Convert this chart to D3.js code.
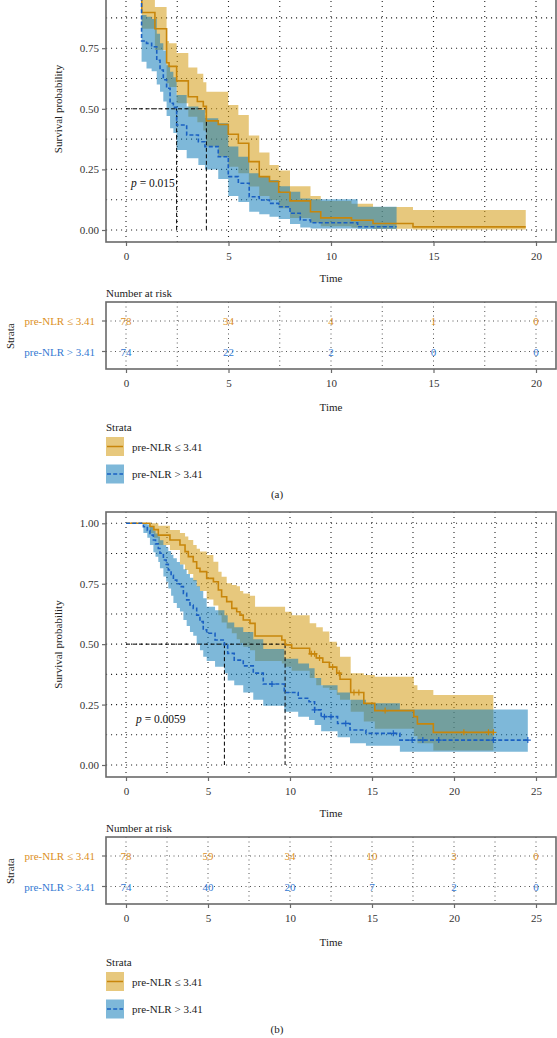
<!DOCTYPE html>
<html><head><meta charset="utf-8">
<script src="https://cdn.jsdelivr.net/npm/d3@7"></script>
<style>
html,body{margin:0;padding:0;background:#fff;}
svg{display:block;}
text{font-family:"Liberation Serif","Times New Roman",serif;}
</style></head><body>
<svg id="chart" width="557" height="1038"></svg>
<script>
// ---------------- DATA ----------------
const strata = ["pre-NLR \u2264 3.41", "pre-NLR > 3.41"];
const yTicks = [0, 0.25, 0.5, 0.75, 1];
const yTickLabels = ["0.00", "0.25", "0.50", "0.75", "1.00"];
const xTicksA = [0, 5, 10, 15, 20];
const xTicksB = [0, 5, 10, 15, 20, 25];
const pValueA = "0.015";
const pValueB = "0.0059";

// Panel (a) – pre-NLR <= 3.41
const timeA1 = [0, 0.77, 1.41, 1.98, 2.1, 2.47, 3.04, 3.48, 3.77, 3.92, 4.5, 4.99, 5.48, 5.99, 6.5, 7.0, 7.45, 8.0, 9.0, 9.5, 11.0, 12.05, 14.0, 19.5];
const survA1 = [1, 0.897, 0.83, 0.69, 0.675, 0.615, 0.55, 0.53, 0.51, 0.45, 0.435, 0.395, 0.358, 0.282, 0.22, 0.2, 0.156, 0.12, 0.075, 0.05, 0.04, 0.027, 0.013, 0.013];
const upperA1 = [1, 0.96, 0.92, 0.78, 0.77, 0.73, 0.67, 0.645, 0.61, 0.57, 0.57, 0.516, 0.474, 0.39, 0.32, 0.268, 0.245, 0.18, 0.14, 0.12, 0.108, 0.095, 0.083, 0.083];
const lowerA1 = [1, 0.83, 0.743, 0.605, 0.59, 0.523, 0.467, 0.445, 0.41, 0.344, 0.302, 0.261, 0.234, 0.179, 0.14, 0.124, 0.09, 0.05, 0.03, 0.015, 0.01, 0.005, 0.002, 0.002];
const censorA1 = [];
// Panel (a) – pre-NLR > 3.41
const timeA2 = [0, 0.76, 1.0, 1.25, 1.5, 1.66, 1.82, 1.98, 2.15, 2.31, 2.47, 2.96, 3.53, 3.85, 4.5, 4.99, 5.48, 6.01, 6.5, 7.0, 7.45, 8.0, 8.5, 9.0, 11.3, 13.2];
const survA2 = [1, 0.78, 0.77, 0.756, 0.70, 0.66, 0.62, 0.585, 0.523, 0.506, 0.433, 0.392, 0.364, 0.344, 0.302, 0.22, 0.193, 0.137, 0.124, 0.110, 0.096, 0.069, 0.041, 0.03, 0.0135, 0.0135];
const upperA2 = [1, 0.887, 0.88, 0.87, 0.81, 0.77, 0.74, 0.68, 0.653, 0.63, 0.557, 0.51, 0.495, 0.461, 0.44, 0.344, 0.302, 0.234, 0.22, 0.206, 0.18, 0.158, 0.13, 0.127, 0.096, 0.096];
const lowerA2 = [1, 0.694, 0.666, 0.655, 0.60, 0.57, 0.53, 0.47, 0.42, 0.40, 0.33, 0.296, 0.268, 0.25, 0.21, 0.14, 0.115, 0.075, 0.065, 0.055, 0.045, 0.025, 0.01, 0.006, 0.004, 0.004];
const censorA2 = [];
const riskTimesA = [0, 5, 10, 15, 20];
const riskA1 = [78, 34, 4, 1, 0];
const riskA2 = [74, 22, 2, 0, 0];

// Panel (b) – pre-NLR <= 3.41
const timeB1 = [0, 1.46, 1.7, 1.97, 2.68, 3.29, 3.6, 3.8, 4.1, 4.31, 4.51, 4.92, 5.33, 5.63, 5.83, 6.14, 6.45, 6.75, 6.95, 7.15, 7.56, 7.87, 9.5, 9.7, 10.1, 11.2, 11.6, 12.0, 12.4, 12.85, 13.05, 13.7, 14.5, 15.17, 17.55, 17.77, 18.74, 22.4];
const survB1 = [1, 0.987, 0.974, 0.951, 0.931, 0.91, 0.883, 0.862, 0.841, 0.814, 0.80, 0.772, 0.758, 0.724, 0.696, 0.676, 0.648, 0.634, 0.62, 0.60, 0.586, 0.534, 0.517, 0.497, 0.483, 0.46, 0.443, 0.425, 0.405, 0.38, 0.355, 0.30, 0.255, 0.225, 0.2, 0.17, 0.135, 0.135];
const upperB1 = [1, 1, 1, 0.99, 0.972, 0.96, 0.945, 0.931, 0.91, 0.895, 0.883, 0.869, 0.841, 0.80, 0.779, 0.752, 0.745, 0.74, 0.72, 0.71, 0.70, 0.655, 0.655, 0.634, 0.62, 0.586, 0.57, 0.552, 0.51, 0.489, 0.448, 0.38, 0.372, 0.365, 0.33, 0.31, 0.29, 0.29];
const lowerB1 = [1, 0.96, 0.94, 0.91, 0.89, 0.83, 0.807, 0.79, 0.76, 0.738, 0.72, 0.685, 0.66, 0.62, 0.59, 0.565, 0.545, 0.52, 0.505, 0.489, 0.475, 0.43, 0.42, 0.407, 0.39, 0.36, 0.33, 0.32, 0.31, 0.29, 0.27, 0.22, 0.18, 0.15, 0.12, 0.09, 0.06, 0.06];
const censorB1 = [11.3, 11.5, 11.8, 12.6, 13.0, 13.9, 14.2, 15.8, 20.6, 22.1, 22.4];
// Panel (b) – pre-NLR > 3.41
const timeB2 = [0, 1.06, 1.3, 1.46, 1.67, 1.8, 1.97, 2.07, 2.28, 2.45, 2.58, 2.75, 2.89, 3.1, 3.29, 3.5, 3.7, 3.9, 4.1, 4.31, 4.51, 4.71, 4.92, 5.43, 6.0, 6.2, 6.6, 7.15, 7.76, 8.37, 9.65, 10.5, 11.16, 11.5, 11.9, 12.9, 13.66, 14.63, 16.7, 24.5];
const survB2 = [1, 0.986, 0.97, 0.951, 0.931, 0.915, 0.896, 0.876, 0.848, 0.83, 0.807, 0.785, 0.765, 0.75, 0.738, 0.71, 0.683, 0.662, 0.648, 0.62, 0.593, 0.559, 0.545, 0.517, 0.497, 0.462, 0.434, 0.41, 0.38, 0.335, 0.30, 0.276, 0.262, 0.228, 0.2, 0.172, 0.145, 0.131, 0.103, 0.103];
const upperB2 = [1, 1, 0.995, 0.985, 0.97, 0.958, 0.945, 0.93, 0.91, 0.9, 0.885, 0.87, 0.855, 0.84, 0.83, 0.81, 0.79, 0.775, 0.765, 0.74, 0.72, 0.69, 0.655, 0.64, 0.62, 0.59, 0.57, 0.55, 0.52, 0.48, 0.44, 0.42, 0.40, 0.36, 0.33, 0.30, 0.27, 0.255, 0.23, 0.23];
const lowerB2 = [1, 0.96, 0.94, 0.91, 0.88, 0.862, 0.84, 0.814, 0.78, 0.758, 0.73, 0.70, 0.67, 0.65, 0.635, 0.60, 0.575, 0.55, 0.535, 0.50, 0.475, 0.448, 0.43, 0.407, 0.38, 0.35, 0.33, 0.30, 0.27, 0.245, 0.22, 0.2, 0.186, 0.166, 0.14, 0.115, 0.09, 0.08, 0.055, 0.055];
const censorB2 = [8.9, 11.5, 12.1, 12.5, 13.4, 16.3, 17.45, 18.1, 19.07, 22.4, 24.5];
const riskTimesB = [0, 5, 10, 15, 20, 25];
const riskB1 = [78, 59, 34, 10, 3, 0];
const riskB2 = [74, 40, 20, 7, 2, 0];

// ---------------- STYLE ----------------
const lineCol = ["#C8860B", "#1A60C2"];
const textCol = ["#DC8F25", "#3479D2"];
const bandCol = ["#D39B13", "#147DB9"];
const bandOp = [0.55, 0.55];
const frameCol = "#6a6a6a";
const tickTextCol = "#333";
const FS = 11;

const svg = d3.select("#chart");

function stepValue(rows, t) {
  const i = d3.bisectRight(rows.map(r => r.t), t) - 1;
  return rows[Math.max(0, i)].s;
}

function drawPanel(cfg) {
  const g = svg.append("g");
  const x = d3.scaleLinear().domain([0, cfg.xMax]).range([126, 536]);
  const y = d3.scaleLinear().domain([0, 1]).range([cfg.y0, cfg.y1]);
  const L = 106, R = 556, T = cfg.top, B = cfg.bottom;

  // grid (major + minor)
  const gx = d3.range(0, cfg.xMax + 0.01, 2.5);
  const gy = d3.range(0, 1.001, 0.125);
  g.append("g").selectAll("line").data(gy).join("line")
    .attr("x1", L).attr("x2", R).attr("y1", d => y(d)).attr("y2", d => y(d))
    .attr("stroke", "#222").attr("stroke-width", 1.1).attr("stroke-dasharray", "1.1,3.9");
  g.append("g").selectAll("line").data(gx).join("line")
    .attr("x1", d => x(d)).attr("x2", d => x(d)).attr("y1", T).attr("y2", B)
    .attr("stroke", "#222").attr("stroke-width", 1.1).attr("stroke-dasharray", "1.1,3.9");

  const area = d3.area().curve(d3.curveStepAfter)
    .x(d => x(d.t)).y0(d => y(d.l)).y1(d => y(d.u));
  const line = d3.line().curve(d3.curveStepAfter).x(d => x(d.t)).y(d => y(d.s));

  cfg.groups.forEach((gr, k) => {
    g.append("path").attr("d", area(gr.rows)).attr("fill", bandCol[k]).attr("fill-opacity", bandOp[k]);
  });

  // median lines
  const meds = cfg.groups.map(gr => { const r = gr.rows.find(d => d.s <= 0.5); return r ? r.t : null; });
  const mmax = d3.max(meds);
  g.append("line").attr("x1", x(0)).attr("x2", x(mmax)).attr("y1", y(0.5)).attr("y2", y(0.5))
    .attr("stroke", "#000").attr("stroke-width", 1).attr("stroke-dasharray", "4,2.5");
  meds.forEach(m => {
    g.append("line").attr("x1", x(m)).attr("x2", x(m)).attr("y1", y(0.5)).attr("y2", y(0))
      .attr("stroke", "#000").attr("stroke-width", 1).attr("stroke-dasharray", "4,2.5");
  });

  cfg.groups.forEach((gr, k) => {
    g.append("path").attr("d", line(gr.rows)).attr("fill", "none").attr("stroke", lineCol[k])
      .attr("stroke-width", 1.6).attr("stroke-dasharray", k === 1 ? "4,2.2" : null);
    gr.censor.forEach(ct => {
      const cx = x(ct), cy = y(stepValue(gr.rows, ct));
      g.append("path").attr("d", `M${cx - 3},${cy}H${cx + 3}M${cx},${cy - 3}V${cy + 3}`)
        .attr("stroke", lineCol[k]).attr("stroke-width", 1.2);
    });
  });

  // frame
  g.append("rect").attr("x", L).attr("y", T).attr("width", R - L).attr("height", B - T)
    .attr("fill", "none").attr("stroke", frameCol).attr("stroke-width", 1.6);

  // axes (only ticks that fall inside the picture)
  const visY = yTicks.map((v, i) => ({v, lab: yTickLabels[i]})).filter(d => y(d.v) > 6);
  const ay = g.append("g").attr("transform", `translate(${L},0)`)
    .call(d3.axisLeft(y).tickValues(visY.map(d => d.v))
      .tickFormat(v => visY.find(d => d.v === v).lab).tickSize(4).tickPadding(3));
  const ax = g.append("g").attr("transform", `translate(0,${B})`)
    .call(d3.axisBottom(x).tickValues(cfg.xTicks).tickFormat(d3.format("d")).tickSize(4).tickPadding(6));
  [ay, ax].forEach(a => {
    a.select(".domain").remove();
    a.selectAll(".tick line").attr("stroke", frameCol).attr("stroke-width", 1.2);
    a.selectAll(".tick text").attr("fill", tickTextCol).attr("font-size", FS)
      .attr("font-family", '"Liberation Serif",serif');
  });

  g.append("text").attr("transform", `translate(62,${(T + B) / 2}) rotate(-90)`)
    .attr("text-anchor", "middle").attr("font-size", FS).attr("fill", "#222").text("Survival probability");
  g.append("text").attr("x", 331).attr("y", B + 40).attr("text-anchor", "middle")
    .attr("font-size", FS).attr("fill", "#222").text("Time");

  const pt = g.append("text").attr("x", cfg.pX).attr("y", cfg.pY).attr("font-size", FS + 0.5).attr("fill", "#111");
  pt.append("tspan").attr("font-style", "italic").text("p");
  pt.append("tspan").text(" = " + cfg.p);

  // risk table
  const tt = cfg.tableTop, tb = cfg.tableTop + 67;
  const rowY = [tt + 19, tt + 49.5];
  g.append("text").attr("x", L).attr("y", tt - 5).attr("font-size", FS).attr("fill", "#222").text("Number at risk");
  g.append("g").selectAll("line").data(rowY).join("line")
    .attr("x1", L).attr("x2", R).attr("y1", d => d).attr("y2", d => d)
    .attr("stroke", "#555").attr("stroke-width", 1).attr("stroke-dasharray", "1,3.5");
  g.append("g").selectAll("line").data(gx).join("line")
    .attr("x1", d => x(d)).attr("x2", d => x(d)).attr("y1", tt).attr("y2", tb)
    .attr("stroke", "#555").attr("stroke-width", 1).attr("stroke-dasharray", "1,3.5");
  cfg.risk.forEach((vals, k) => {
    g.append("g").selectAll("text").data(vals).join("text")
      .attr("x", (d, i) => x(cfg.riskTimes[i])).attr("y", rowY[k] + 4)
      .attr("text-anchor", "middle").attr("font-size", FS).attr("fill", textCol[k]).text(d => d);
    g.append("text").attr("x", 95).attr("y", rowY[k] + 4).attr("text-anchor", "end")
      .attr("font-size", FS).attr("fill", textCol[k]).text(strata[k]);
    g.append("line").attr("x1", 102).attr("x2", L).attr("y1", rowY[k]).attr("y2", rowY[k])
      .attr("stroke", frameCol).attr("stroke-width", 1.2);
  });
  g.append("rect").attr("x", L).attr("y", tt).attr("width", R - L).attr("height", tb - tt)
    .attr("fill", "none").attr("stroke", frameCol).attr("stroke-width", 1.6);
  const at = g.append("g").attr("transform", `translate(0,${tb})`)
    .call(d3.axisBottom(x).tickValues(cfg.xTicks).tickFormat(d3.format("d")).tickSize(4).tickPadding(6));
  at.select(".domain").remove();
  at.selectAll(".tick line").attr("stroke", frameCol).attr("stroke-width", 1.2);
  at.selectAll(".tick text").attr("fill", tickTextCol).attr("font-size", FS).attr("font-family", '"Liberation Serif",serif');
  g.append("text").attr("x", 331).attr("y", tb + 42).attr("text-anchor", "middle")
    .attr("font-size", FS).attr("fill", "#222").text("Time");
  g.append("text").attr("transform", `translate(14,${(rowY[0] + rowY[1]) / 2}) rotate(-90)`)
    .attr("text-anchor", "middle").attr("font-size", FS).attr("fill", "#222").text("Strata");

  // legend
  const ly = tb + 58;
  g.append("text").attr("x", L).attr("y", ly + 4).attr("font-size", FS).attr("fill", "#222").text("Strata");
  [0, 1].forEach(k => {
    const ky = ly + 10 + k * 27.5;
    g.append("rect").attr("x", L).attr("y", ky).attr("width", 18).attr("height", 19)
      .attr("fill", bandCol[k]).attr("fill-opacity", bandOp[k]);
    g.append("line").attr("x1", L + 1).attr("x2", L + 17).attr("y1", ky + 9.5).attr("y2", ky + 9.5)
      .attr("stroke", lineCol[k]).attr("stroke-width", 1.5).attr("stroke-dasharray", k === 1 ? "4,2.2" : null);
    g.append("text").attr("x", 132).attr("y", ky + 13.5).attr("font-size", FS).attr("fill", "#222").text(strata[k]);
  });
  g.append("text").attr("x", 277).attr("y", ly + 71).attr("text-anchor", "middle")
    .attr("font-size", FS).attr("fill", "#222").text(cfg.label);
}

drawPanel({
  xMax: 20, xTicks: xTicksA, y0: 230, y1: -12.4, top: -24, bottom: 242,
  groups: [
    {rows: timeA1.map((t, i) => ({t, s: survA1[i], u: upperA1[i], l: lowerA1[i]})), censor: censorA1},
    {rows: timeA2.map((t, i) => ({t, s: survA2[i], u: upperA2[i], l: lowerA2[i]})), censor: censorA2}
  ],
  p: pValueA, pX: 131, pY: 187,
  tableTop: 302, riskTimes: riskTimesA, risk: [riskA1, riskA2], label: "(a)"
});
drawPanel({
  xMax: 25, xTicks: xTicksB, y0: 765, y1: 523.3, top: 512, bottom: 777,
  groups: [
    {rows: timeB1.map((t, i) => ({t, s: survB1[i], u: upperB1[i], l: lowerB1[i]})), censor: censorB1},
    {rows: timeB2.map((t, i) => ({t, s: survB2[i], u: upperB2[i], l: lowerB2[i]})), censor: censorB2}
  ],
  p: pValueB, pX: 136, pY: 723,
  tableTop: 837, riskTimes: riskTimesB, risk: [riskB1, riskB2], label: "(b)"
});
</script>
</body></html>
